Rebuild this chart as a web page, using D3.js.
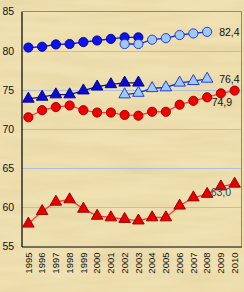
<!DOCTYPE html>
<html>
<head>
<meta charset="utf-8">
<script src="https://cdn.jsdelivr.net/npm/d3@7"></script>
<style>
  html, body { margin: 0; padding: 0; background: #ecdcab; }
  svg { display: block; font-family: "Liberation Sans", Arial, sans-serif; }
</style>
</head>
<body>
<script>
'use strict';

const years = d3.range(1995, 2011).map(String);
const yTicks = [55, 60, 65, 70, 75, 80, 85];

// blue circles (old series 1995-2003, new series 2002-2008)
const blueOld = [80.4, 80.5, 80.8, 80.85, 81.1, 81.3, 81.5, 81.7, 81.7];
const blueNew = [80.85, 80.85, 81.4, 81.6, 82.0, 82.2, 82.4];
// blue triangles
const triOld = [73.85, 74.1, 74.4, 74.4, 74.9, 75.4, 75.7, 75.9, 75.9];
const triNew = [74.4, 74.6, 75.2, 75.3, 75.9, 76.1, 76.4];
// red circles and red triangles 1995-2010
const redCircle = [71.5, 72.4, 72.8, 73.0, 72.4, 72.1, 72.1, 71.8, 71.7, 72.2, 72.2, 73.1, 73.6, 74.05, 74.55, 74.9];
const redTri = [57.9, 59.5, 60.7, 61.0, 59.8, 58.9, 58.7, 58.5, 58.3, 58.7, 58.7, 60.2, 61.25, 61.7, 62.65, 63.0];

const W = 244, H = 292;
const m = { left: 21.5, right: 2.5, top: 11.5, bottom: 45.5 };

const svg = d3.select('body').append('svg')
  .attr('width', W).attr('height', H)
  .attr('viewBox', `0 0 ${W} ${H}`);

// papyrus background
const defs = svg.append('defs');
const f = defs.append('filter').attr('id', 'papyrus')
  .attr('x', 0).attr('y', 0).attr('width', '100%').attr('height', '100%');
f.append('feTurbulence')
  .attr('type', 'fractalNoise')
  .attr('baseFrequency', '0.012 0.09')
  .attr('numOctaves', 3).attr('seed', 4)
  .attr('result', 'noise');
f.append('feColorMatrix')
  .attr('type', 'matrix')
  .attr('values', '0 0 0 0 0.62  0 0 0 0 0.48  0 0 0 0 0.22  0.9 0 0 0 -0.3');

svg.append('rect').attr('width', W).attr('height', H).attr('fill', '#f0e1b2');
svg.append('rect').attr('width', W).attr('height', H)
  .attr('filter', 'url(#papyrus)').attr('opacity', 0.5);

const x = d3.scaleBand().domain(years)
  .range([m.left, W - m.right]);
const y = d3.scaleLinear().domain([55, 85])
  .range([H - m.bottom, m.top]);
const cx = d => x(d) + x.bandwidth() / 2;

// grid
svg.append('g').selectAll('line')
  .data(yTicks.filter(t => t > 55 && t < 85))
  .join('line')
    .attr('x1', m.left).attr('x2', W - m.right)
    .attr('y1', d => Math.round(y(d)) + 0.5).attr('y2', d => Math.round(y(d)) + 0.5)
    .attr('stroke', '#aebfd8').attr('stroke-width', 1.2);

// frame
svg.append('path')
  .attr('d', `M${m.left},${m.top}H${W - m.right}V${H - m.bottom}`)
  .attr('fill', 'none').attr('stroke', '#8a8a8a').attr('stroke-width', 1);

// axes
const yAxis = svg.append('g')
  .attr('transform', `translate(${m.left},0)`)
  .call(d3.axisLeft(y).tickValues(yTicks).tickSize(0).tickPadding(6));
yAxis.select('.domain').attr('stroke', '#000').attr('stroke-width', 1.2);
yAxis.selectAll('text').attr('font-size', 10.5).attr('fill', '#111')
  .attr('text-anchor', 'start').attr('x', -19);

const xAxis = svg.append('g')
  .attr('transform', `translate(0,${H - m.bottom})`)
  .call(d3.axisBottom(x).tickSize(0).tickPadding(0));
xAxis.select('.domain').attr('stroke', '#000').attr('stroke-width', 1.2);
xAxis.selectAll('text')
  .attr('font-size', 9.5).attr('fill', '#111')
  .attr('transform', 'rotate(-90)')
  .attr('text-anchor', 'end')
  .attr('x', -6).attr('y', 0).attr('dy', '0.35em');

const tri = d3.symbol().type(d3.symbolTriangle).size(58);

const drawSeries = (vals, startYear, opt) => {
  const i0 = years.indexOf(String(startYear));
  const pts = vals.map((v, i) => ({ yr: years[i0 + i], v }));
  svg.append('path')
    .datum(pts)
    .attr('fill', 'none')
    .attr('stroke', opt.line).attr('stroke-width', 1.3)
    .attr('d', d3.line().x(d => cx(d.yr)).y(d => y(d.v)));
  const g = svg.append('g');
  if (opt.shape === 'circle') {
    g.selectAll('circle').data(pts).join('circle')
      .attr('cx', d => cx(d.yr)).attr('cy', d => y(d.v))
      .attr('r', 4.6)
      .attr('fill', opt.fill).attr('stroke', opt.stroke).attr('stroke-width', 0.9);
  } else {
    g.selectAll('path').data(pts).join('path')
      .attr('transform', d => `translate(${cx(d.yr)},${y(d.v)})`)
      .attr('d', tri)
      .attr('fill', opt.fill).attr('stroke', opt.stroke).attr('stroke-width', 0.9);
  }
};

drawSeries(triOld, 1995, { shape: 'tri', fill: '#0a0ad8', stroke: '#00007a', line: '#14145a' });
drawSeries(triNew, 2002, { shape: 'tri', fill: '#9fc8f4', stroke: '#1030e0', line: '#1030e0' });
drawSeries(redCircle, 1995, { shape: 'circle', fill: '#f20000', stroke: '#900000', line: '#ff3c3c' });
drawSeries(redTri, 1995, { shape: 'tri', fill: '#e80000', stroke: '#8a0000', line: '#ff3c3c' });
drawSeries(blueOld, 1995, { shape: 'circle', fill: '#0a14f0', stroke: '#00008a', line: '#0a14f0' });
drawSeries(blueNew, 2002, { shape: 'circle', fill: '#9fc8f4', stroke: '#1030e0', line: '#1030e0' });

// end labels
const fmt = v => d3.format('.1f')(v).replace('.', ',');
const labels = [
  { v: blueNew[blueNew.length - 1], yr: '2008', dx: 12, dy: 4, color: '#111' },
  { v: triNew[triNew.length - 1], yr: '2008', dx: 12, dy: 4, color: '#111' },
  { v: redCircle[redCircle.length - 1], yr: '2010', dx: -23, dy: 15, color: '#111' },
  { v: redTri[redTri.length - 1], yr: '2010', dx: -24, dy: 12, color: '#1c4a6c' }
];
svg.append('g').selectAll('text').data(labels).join('text')
  .attr('x', d => cx(d.yr) + d.dx)
  .attr('y', d => y(d.v) + d.dy)
  .attr('font-size', 10.5)
  .attr('fill', d => d.color)
  .text(d => fmt(d.v));
</script>
</body>
</html>
